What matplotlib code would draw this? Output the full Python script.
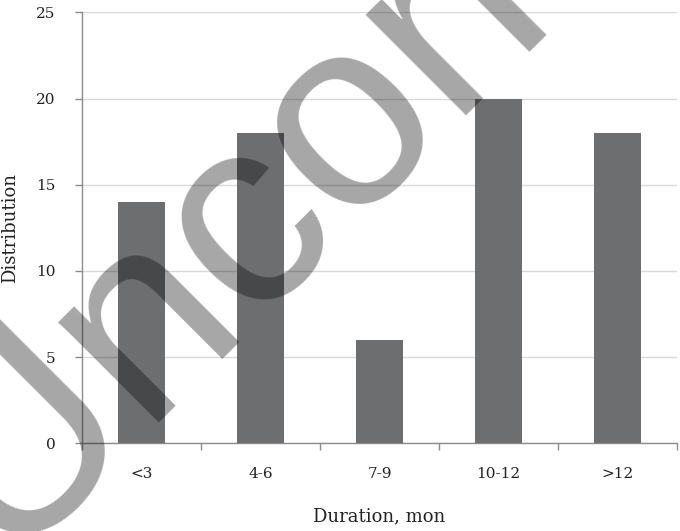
import matplotlib
matplotlib.use("Agg")
import matplotlib.pyplot as plt
import numpy as np

categories = ["<3", "4-6", "7-9", "10-12", ">12"]
counts = [14, 18, 6, 20, 18]
y_ticks = [0, 5, 10, 15, 20, 25]

bar_color = "#6d6e70"
axis_color = "#8c8c8c"
grid_color = "#d9d9d9"

fig = plt.figure(figsize=(6.8, 5.31), dpi=100)
ax = fig.add_axes([0.1206, 0.1652, 0.8750, 0.8116])

x = np.arange(len(categories))
ax.bar(x, counts, width=0.4, color=bar_color, zorder=3)

ax.set_xlim(-0.5, len(categories) - 0.5)
ax.set_ylim(0, 25)
ax.set_yticks(y_ticks)
ax.set_xticks(x)
ax.set_xticklabels(categories)
ax.set_xticks(np.arange(len(categories) + 1) - 0.5, minor=True)

# spines and grid, Excel style
for side in ["top", "right"]:
    ax.spines[side].set_visible(False)
for side in ["left", "bottom"]:
    ax.spines[side].set_color(axis_color)
    ax.spines[side].set_linewidth(1.0)
ax.yaxis.grid(True, color=grid_color, linewidth=1.0, zorder=0)
ax.set_axisbelow(True)

ax.tick_params(axis="x", which="major", length=0, pad=17)
ax.tick_params(axis="x", which="minor", length=5, color=axis_color, width=1.0, direction="out")
ax.tick_params(axis="y", length=5, color=axis_color, width=1.0, pad=14)

serif = "DejaVu Serif"
for lab in ax.get_xticklabels() + ax.get_yticklabels():
    lab.set_fontfamily(serif)
    lab.set_fontsize(11)
    lab.set_color("#222222")

ax.set_xlabel("Duration, mon", fontfamily=serif, fontsize=13, color="#222222", labelpad=19)
ax.set_ylabel("Distribution", fontfamily=serif, fontsize=13, color="#222222", labelpad=12)

# watermark across the whole figure
fig.text(0.013, -0.079, "Uncorrected Proof", fontsize=194, family="Liberation Sans",
         rotation=45, rotation_mode="anchor", ha="left", va="baseline",
         color="black", alpha=0.35, zorder=10)

fig.savefig("out.png", dpi=100)
